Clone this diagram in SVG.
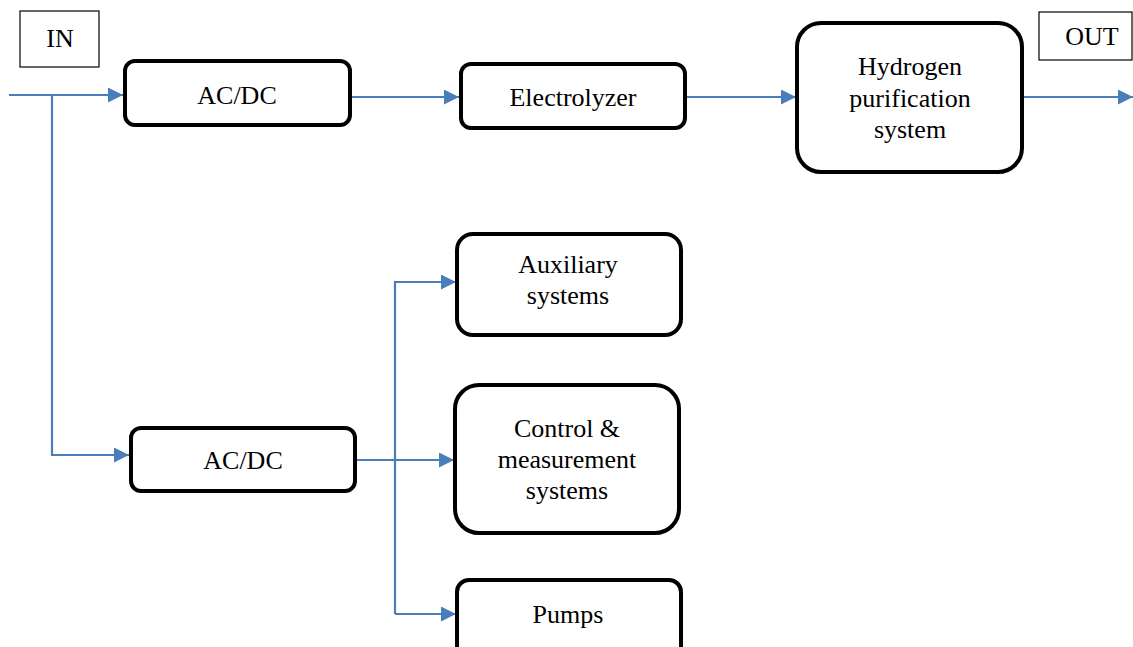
<svg xmlns="http://www.w3.org/2000/svg" width="1133" height="647" viewBox="0 0 1133 647">
<style>
.box{fill:#fff;stroke:#000;stroke-width:4}
.lab{fill:#fff;stroke:#000;stroke-width:1.2}
.t{font-family:"Liberation Serif","Times New Roman",serif;font-size:26px;fill:#000;text-anchor:middle}
.c{fill:none;stroke:#4a7ebb;stroke-width:2.2}
</style>
<defs>
<marker id="ah" markerUnits="userSpaceOnUse" markerWidth="15" markerHeight="15" refX="15" refY="7.5" orient="auto">
<path d="M0,0 L15,7.5 L0,15 z" fill="#4a7ebb"/>
</marker>
</defs>
<rect width="1133" height="647" fill="#fff"/>
<g id="connectors">
<path class="c" d="M9,95 H123" marker-end="url(#ah)"/>
<path class="c" d="M52,95 V455 H129" marker-end="url(#ah)"/>
<path class="c" d="M350,97 H459" marker-end="url(#ah)"/>
<path class="c" d="M687,97 H796" marker-end="url(#ah)"/>
<path class="c" d="M1024,97 H1133" marker-end="url(#ah)"/>
<path class="c" d="M357,460 H454" marker-end="url(#ah)"/>
<path class="c" d="M395,281 V614"/>
<path class="c" d="M395,282 H456" marker-end="url(#ah)"/>
<path class="c" d="M395,614 H456" marker-end="url(#ah)"/>
</g>
<g id="in">
<rect class="lab" x="20" y="11" width="79" height="56"/>
<text class="t" x="60" y="47">IN</text>
</g>
<g id="out">
<rect class="lab" x="1039" y="12" width="93" height="48"/>
<text class="t" x="1092" y="45">OUT</text>
</g>
<g id="acdc1">
<rect class="box" x="125" y="61" width="225" height="64" rx="10"/>
<text class="t" x="237" y="104">AC/DC</text>
</g>
<g id="electrolyzer">
<rect class="box" x="461" y="64" width="224" height="64" rx="10"/>
<text class="t" x="573" y="106">Electrolyzer</text>
</g>
<g id="purification">
<rect class="box" x="797" y="23" width="225" height="149" rx="24"/>
<text class="t" x="910" y="75">Hydrogen</text>
<text class="t" x="910" y="107">purification</text>
<text class="t" x="910" y="138">system</text>
</g>
<g id="acdc2">
<rect class="box" x="131" y="428" width="224" height="63" rx="10"/>
<text class="t" x="243" y="469">AC/DC</text>
</g>
<g id="auxiliary">
<rect class="box" x="457" y="234" width="224" height="101" rx="16"/>
<text class="t" x="568" y="273">Auxiliary</text>
<text class="t" x="568" y="304">systems</text>
</g>
<g id="control">
<rect class="box" x="455" y="385" width="224" height="148" rx="24"/>
<text class="t" x="567" y="437">Control &amp;</text>
<text class="t" x="567" y="468">measurement</text>
<text class="t" x="567" y="499">systems</text>
</g>
<g id="pumps">
<rect class="box" x="457" y="580" width="224" height="80" rx="12"/>
<text class="t" x="568" y="623">Pumps</text>
</g>
</svg>
